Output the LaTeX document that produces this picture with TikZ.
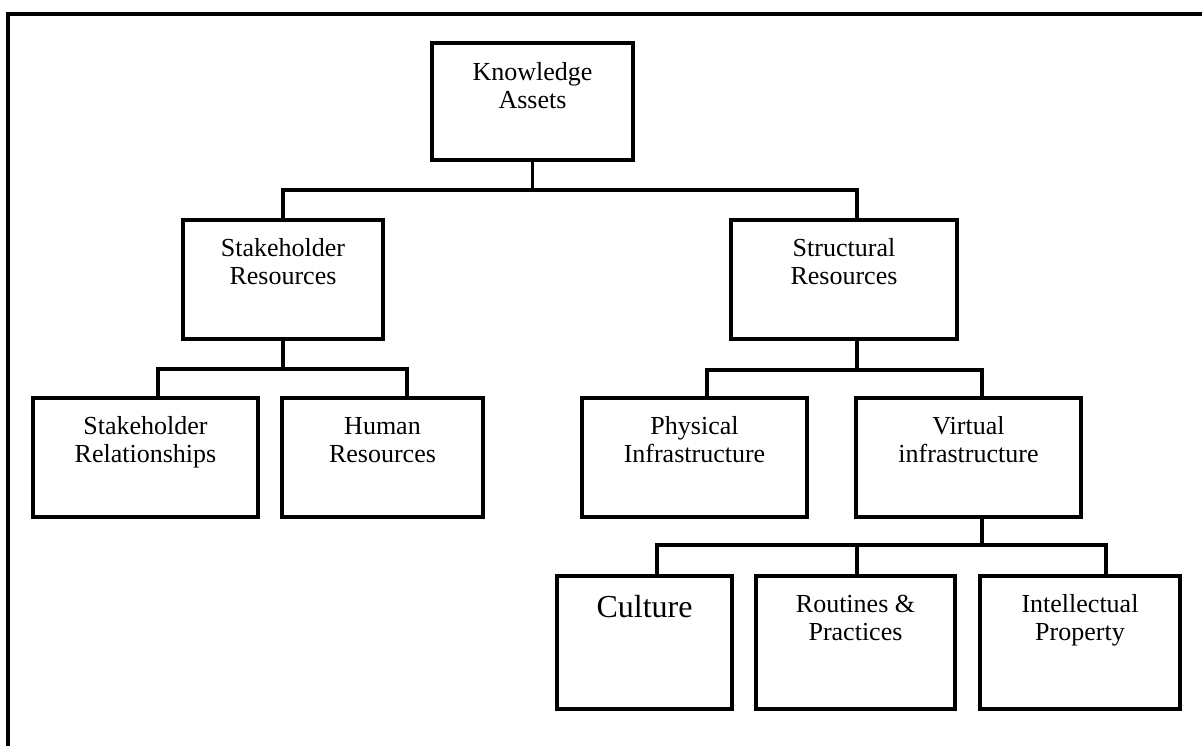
\documentclass[tikz,border=0pt]{standalone}
\usepackage{fontspec}
\setmainfont{Liberation Serif}
\begin{document}
\begin{tikzpicture}[x=1pt,y=-1pt,
  box/.style={draw, line width=3.2pt, rectangle, inner sep=0pt, outer sep=0pt},
  lbl/.style={anchor=base, align=center, inner sep=0pt,
    font=\fontsize{26}{28}\selectfont},
  big/.style={lbl, font=\fontsize{32}{34}\selectfont},
  wire/.style={line width=3.2pt}]
  \useasboundingbox (0,0) rectangle (1202,745);

  % outer frame: top and left sides
  \coordinate (frameTR) at (1204,14);
  \coordinate (frameTL) at (8,14);
  \coordinate (frameBL) at (8,747);
  \draw[wire] (frameTR) -- (frameTL) -- (frameBL);

  % boxes
  \node[box, minimum width=201pt, minimum height=117pt] (ka)   at (532.5,101.5) {};
  \node[box, minimum width=200pt, minimum height=119pt] (sr)   at (283,279.5) {};
  \node[box, minimum width=226pt, minimum height=119pt] (str)  at (844,279.5) {};
  \node[box, minimum width=225pt, minimum height=119pt] (srel) at (145.5,457.5) {};
  \node[box, minimum width=201pt, minimum height=119pt] (hr)   at (382.5,457.5) {};
  \node[box, minimum width=225pt, minimum height=119pt] (phys) at (694.5,457.5) {};
  \node[box, minimum width=225pt, minimum height=119pt] (virt) at (968.5,457.5) {};
  \node[box, minimum width=175pt, minimum height=133pt] (cult) at (644.5,642.5) {};
  \node[box, minimum width=199pt, minimum height=133pt] (rout) at (855.5,642.5) {};
  \node[box, minimum width=200pt, minimum height=133pt] (ip)   at (1080,642.5) {};

  % box texts, set near the top of each box (base = last line's baseline)
  \node[lbl] (kaT)   at ([yshift=-65pt]ka.north)   {Knowledge\\Assets};
  \node[lbl] (srT)   at ([yshift=-64pt]sr.north)   {Stakeholder\\Resources};
  \node[lbl] (strT)  at ([yshift=-64pt]str.north)  {Structural\\Resources};
  \node[lbl] (srelT) at ([yshift=-64pt]srel.north) {Stakeholder\\Relationships};
  \node[lbl] (hrT)   at ([yshift=-64pt]hr.north)   {Human\\Resources};
  \node[lbl] (physT) at ([yshift=-64pt]phys.north) {Physical\\Infrastructure};
  \node[lbl] (virtT) at ([yshift=-64pt]virt.north) {Virtual\\infrastructure};
  \node[big] (cultT) at ([yshift=-41pt]cult.north) {Culture};
  \node[lbl] (routT) at ([yshift=-64pt]rout.north) {Routines \&\\Practices};
  \node[lbl] (ipT)   at ([yshift=-64pt]ip.north)   {Intellectual\\Property};

  % junctions of the tree connectors
  \coordinate (bus1) at (532.5,190);
  \coordinate (bus2) at (283,369);
  \coordinate (bus3) at (857,370);
  \coordinate (bus4) at (982,545);

  % level 1
  \draw[wire] (ka.south) -- (bus1);
  \draw[wire] (sr.north) |- (bus1) -| ([xshift=13pt]str.north);
  % level 2, left
  \draw[wire] (sr.south) -- (bus2);
  \draw[wire] ([xshift=12.5pt]srel.north) |- (bus2) -| ([xshift=24.5pt]hr.north);
  % level 2, right
  \draw[wire] ([xshift=13pt]str.south) -- (bus3);
  \draw[wire] ([xshift=12.5pt]phys.north) |- (bus3) -| ([xshift=13.5pt]virt.north);
  % level 3
  \draw[wire] ([xshift=13.5pt]virt.south) -- (bus4);
  \draw[wire] ([xshift=12.5pt]cult.north) |- (bus4) -| ([xshift=26pt]ip.north);
  \draw[wire] ([xshift=1.5pt]rout.north) -- ([xshift=1.5pt]rout.north |- bus4);
\end{tikzpicture}
\end{document}
